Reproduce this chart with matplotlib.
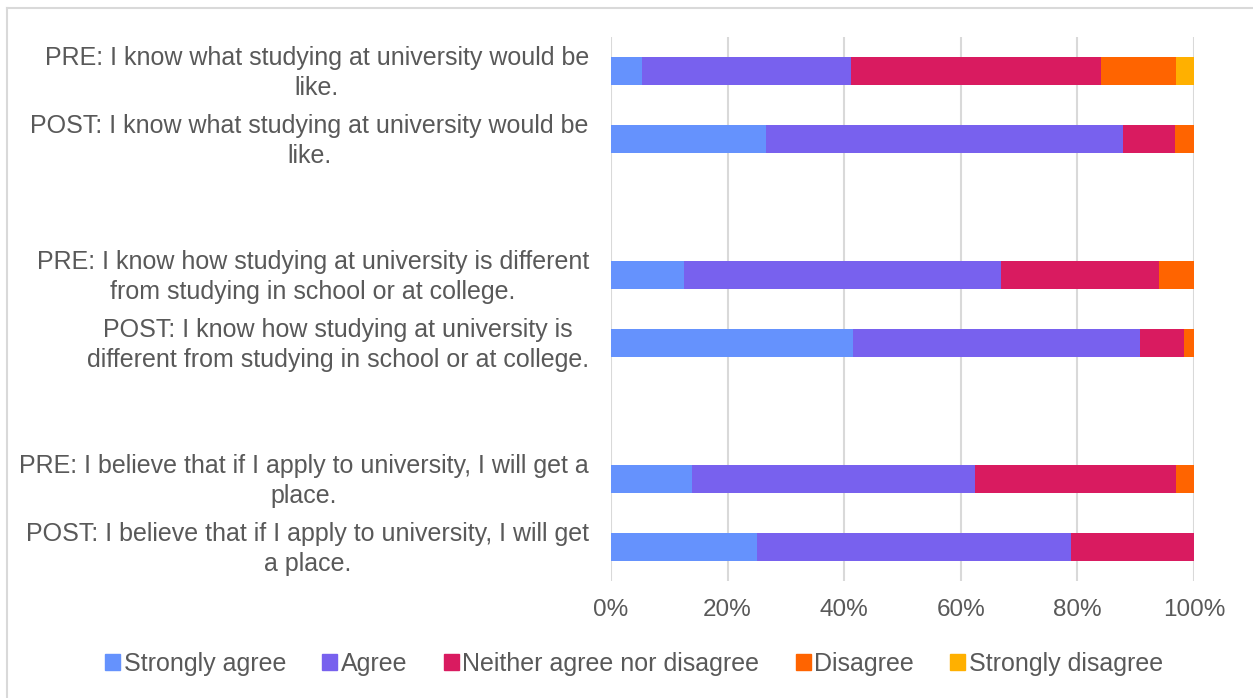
import matplotlib
matplotlib.use("Agg")
import matplotlib.pyplot as plt
import matplotlib.patches as mpatches
import matplotlib.transforms as mtransforms
import numpy as np

plt.rcParams['font.family'] = ['Liberation Sans', 'DejaVu Sans']

# survey statements, blank rows separate the three question pairs
statements = [
    "PRE: I know what studying at university would be\nlike.",
    "POST: I know what studying at university would be\nlike.",
    "",
    "PRE: I know how studying at university is different\nfrom studying in school or at college.",
    "POST: I know how studying at university is\ndifferent from studying in school or at college.",
    "",
    "PRE: I believe that if I apply to university, I will get a\nplace.",
    "POST: I believe that if I apply to university, I will get\na place.",
]

responses = ["Strongly agree", "Agree", "Neither agree nor disagree",
             "Disagree", "Strongly disagree"]

# share of answers (%) per statement, blanks are 0
strongly_agree    = [5.4, 26.6, 0, 12.6, 41.5, 0, 13.9, 25.1]
agree             = [35.7, 61.2, 0, 54.3, 49.3, 0, 48.6, 53.8]
neither           = [42.9, 8.9, 0, 27.1, 7.5, 0, 34.4, 21.1]
disagree          = [12.9, 3.3, 0, 6.0, 1.7, 0, 3.1, 0.0]
strongly_disagree = [3.1, 0.0, 0, 0.0, 0.0, 0, 0.0, 0.0]

colors = ["#6592FD", "#7861EE", "#D91B60", "#FF6400", "#FFB000"]
text_col = "#595959"

W, H = 1253, 698
fig = plt.figure(figsize=(W / 100, H / 100), dpi=100)
ax = fig.add_axes([611 / W, 1 - 581 / H, (1194 - 611) / W, (581 - 37) / H])

series = [strongly_agree, agree, neither, disagree, strongly_disagree]
ypos = np.arange(len(statements))
left = np.zeros(len(statements))
for vals, col, name in zip(series, colors, responses):
    vals = np.array(vals, dtype=float)
    ax.barh(ypos, vals, left=left, height=0.41, color=col, label=name, zorder=3)
    left += vals

ax.set_xlim(0, 100)
ax.set_ylim(len(statements) - 0.5, -0.5)
ax.set_xticks(np.arange(0, 101, 20))
ax.set_xticklabels([f"{v}%" for v in range(0, 101, 20)])
ax.set_yticks(ypos)
ax.set_yticklabels(statements, multialignment="center", linespacing=1.3)
ax.tick_params(length=0, colors=text_col)
ax.tick_params(axis="y", pad=16, labelsize=18)
ax.tick_params(axis="x", pad=13, labelsize=17.5)
ax.grid(axis="x", color="#D9D9D9", linewidth=1.5, zorder=0)
for s in ax.spines.values():
    s.set_visible(False)

# nudge the statement labels up a little
lift = mtransforms.ScaledTranslation(0, 3 / 100, fig.dpi_scale_trans)
for lbl in ax.get_yticklabels():
    lbl.set_transform(lbl.get_transform() + lift)

handles = [mpatches.Patch(color=c, label=n) for c, n in zip(colors, responses)]
leg = fig.legend(handles=handles, loc="center", bbox_to_anchor=(634 / W, 1 - 664 / H),
                 ncol=5, frameon=False, fontsize=18, handlelength=0.6,
                 handleheight=0.6, handletextpad=0.15, columnspacing=1.45,
                 borderpad=0)
for t in leg.get_texts():
    t.set_color(text_col)

# light frame on top and left
fig.add_artist(plt.Line2D([7 / W, 7 / W], [0, 1 - 8 / H], color="#D9D9D9",
                          linewidth=1.5, transform=fig.transFigure))
fig.add_artist(plt.Line2D([7 / W, 1], [1 - 8 / H, 1 - 8 / H], color="#D9D9D9",
                          linewidth=1.5, transform=fig.transFigure))

fig.savefig("out.png", dpi=100)
